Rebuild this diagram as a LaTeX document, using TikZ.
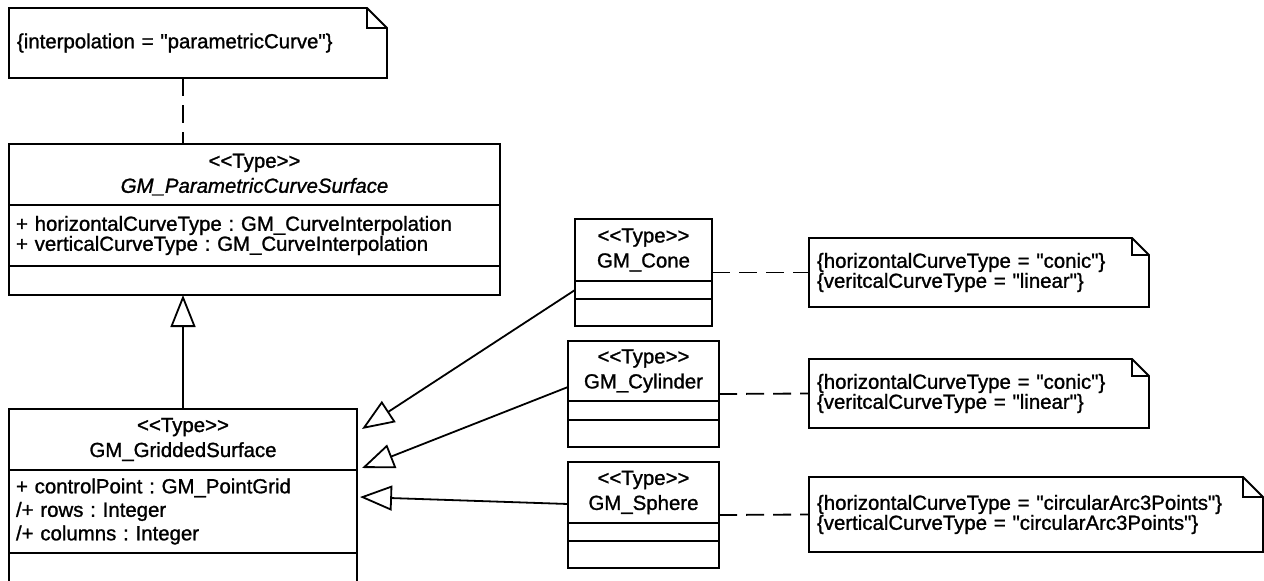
\documentclass[tikz,border=0pt]{standalone}
\usepackage{fontspec}
\setmainfont{Liberation Sans}[Ligatures=TeXOff, FakeBold=1.2]
\usetikzlibrary{arrows.meta, positioning, fit}
\frenchspacing

% note outline with folded corner
\newcommand{\notefold}[2]{%
	\draw[umlline] (#1.north west) -- ([xshift=-#2]#1.north east) -- ([yshift=-#2]#1.north east) -- (#1.south east) -- (#1.south west) -- cycle;
	\draw[umlline] ([xshift=-#2]#1.north east) |- ([yshift=-#2]#1.north east);
}

\tikzset{
	umlline/.style={line width=1.8pt},
	compart/.style={draw, umlline, outer sep=0pt, inner ysep=0pt, inner xsep=7pt, align=left, font=\fontsize{20.4}{18.5}\selectfont},
	classhead/.style={compart, anchor=north west, align=center, inner xsep=0pt, font=\fontsize{20.4}{25}\selectfont},
	note/.style={anchor=north west, outer sep=0pt, inner xsep=8pt, inner ysep=0pt, align=left, font=\fontsize{20.4}{18.5}\selectfont},
	gen/.style={umlline, -{Triangle[open, length=32pt, width=25pt, line width=1.8pt]}},
	anchorline/.style={umlline, dash pattern=on 18pt off 9pt},
}

\begin{document}
\begin{tikzpicture}[x=1pt, y=-1pt]
	\useasboundingbox (0,0) rectangle (1264,581);
	\clip (0,0) rectangle (1264,581);

	% notes
	\node[note, text width=362pt, minimum height=70pt] (topnote) at (9,8) {\{interpolation = "parametricCurve"\}};
	\node[note, text width=324pt, minimum height=69pt] (conenote) at (809,238) {\{horizontalCurveType = "conic"\}\\\{veritcalCurveType = "linear"\}};
	\node[note, text width=324pt, minimum height=69pt] (cylnote) at (809,359) {\{horizontalCurveType = "conic"\}\\\{veritcalCurveType = "linear"\}};
	\node[note, text width=438pt, minimum height=75pt] (spherenote) at (809,477) {\{horizontalCurveType = "circularArc3Points"\}\\\{verticalCurveType = "circularArc3Points"\}};
	\notefold{topnote}{20pt}
	\notefold{conenote}{17pt}
	\notefold{cylnote}{17pt}
	\notefold{spherenote}{20pt}

	% GM_ParametricCurveSurface
	\node[classhead, minimum width=491pt, minimum height=61pt] (paramhead) at (9,144) {<<Type>>\\\textit{GM\_ParametricCurveSurface}};
	\node[compart, text width=477pt, minimum height=61pt, below=0pt of paramhead] (paramattr) {+ horizontalCurveType : GM\_CurveInterpolation\\+ verticalCurveType : GM\_CurveInterpolation};
	\node[compart, minimum width=491pt, minimum height=29pt, below=0pt of paramattr] (paramops) {};

	% GM_GriddedSurface
	\node[classhead, minimum width=348pt, minimum height=61pt] (gridhead) at (9,409) {<<Type>>\\GM\_GriddedSurface};
	\node[compart, text width=334pt, minimum height=83pt, below=0pt of gridhead, font=\fontsize{20.4}{23.5}\selectfont] (gridattr) {+ controlPoint : GM\_PointGrid\\/+ rows : Integer\\/+ columns : Integer};
	\node[compart, minimum width=348pt, minimum height=40pt, below=0pt of gridattr] (gridops) {};

	% GM_Cone
	\node[classhead, minimum width=137pt, minimum height=62pt] (conehead) at (575,219) {<<Type>>\\GM\_Cone};
	\node[compart, minimum width=137pt, minimum height=18pt, below=0pt of conehead] (coneattr) {};
	\node[compart, minimum width=137pt, minimum height=27pt, below=0pt of coneattr] (coneops) {};
	\node[fit=(conehead)(coneops), inner sep=0pt, outer sep=0pt] (cone) {};

	% GM_Cylinder
	\node[classhead, minimum width=151pt, minimum height=60pt] (cylhead) at (568,341) {<<Type>>\\GM\_Cylinder};
	\node[compart, minimum width=151pt, minimum height=19pt, below=0pt of cylhead] (cylattr) {};
	\node[compart, minimum width=151pt, minimum height=27pt, below=0pt of cylattr] (cylops) {};
	\node[fit=(cylhead)(cylops), inner sep=0pt, outer sep=0pt] (cyl) {};

	% GM_Sphere
	\node[classhead, minimum width=151pt, minimum height=61pt] (spherehead) at (568,462) {<<Type>>\\GM\_Sphere};
	\node[compart, minimum width=151pt, minimum height=18pt, below=0pt of spherehead] (sphereattr) {};
	\node[compart, minimum width=151pt, minimum height=27pt, below=0pt of sphereattr] (sphereops) {};
	\node[fit=(spherehead)(sphereops), inner sep=0pt, outer sep=0pt] (sphere) {};

	% generalizations
	\draw[gen] (gridhead.north) -- (gridhead.north |- paramops.south);
	\draw[gen] (coneattr.west) -- ([xshift=5pt,yshift=10.5pt]gridhead.east);
	\draw[gen] ([yshift=-16pt]cylhead.west) -- ([xshift=5pt,yshift=2pt]gridhead.south east);
	\draw[gen] ([yshift=-11.5pt]spherehead.west) -- ([xshift=3pt,yshift=14.5pt]gridattr.east);

	% note anchors
	\draw[anchorline] (topnote.south -| gridhead.north) -- (paramhead.north -| gridhead.north);
	\draw[anchorline] (cone.east) -- (conenote.west);
	\draw[anchorline] (cyl.east) -- (cylnote.west);
	\draw[anchorline] (sphere.east) -- (spherenote.west);
\end{tikzpicture}
\end{document}
